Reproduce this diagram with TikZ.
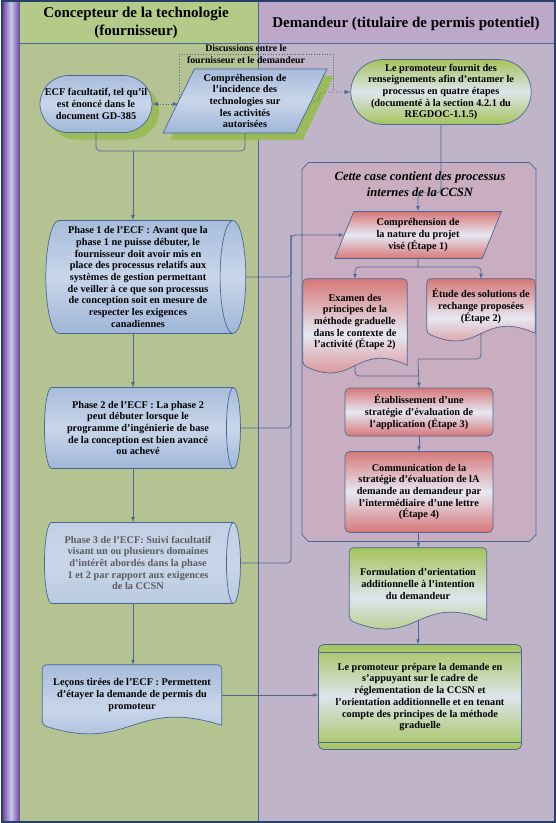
\documentclass[tikz,border=0pt]{standalone}
\usepackage{fontspec}
\setmainfont{Liberation Serif}
\usetikzlibrary{shapes.geometric,shapes.misc,shadows,calc}
\definecolor{laneA}{HTML}{B5C393}
\definecolor{laneB}{HTML}{C0B4C8}
\definecolor{headA}{HTML}{B3CA88}
\definecolor{headB}{HTML}{BDA8CA}
\definecolor{barpurple}{HTML}{7A4AA6}
\definecolor{barlight}{HTML}{C8C8EE}
\definecolor{frameblue}{HTML}{27406A}
\definecolor{edgeblue}{HTML}{4A6894}
\definecolor{bluetop}{HTML}{A7BCDB}
\definecolor{bluemid}{HTML}{C9D6EA}
\definecolor{bluebot}{HTML}{9FB6D8}
\definecolor{palebluetop}{HTML}{C3D0E4}
\definecolor{palebluebot}{HTML}{BACADF}
\definecolor{redtop}{HTML}{D67878}
\definecolor{redmid}{HTML}{E6E8F3}
\definecolor{greentop}{HTML}{A5C35C}
\definecolor{greenmid}{HTML}{DDE5EC}
\definecolor{shadowgreen}{HTML}{9BBB59}
\definecolor{ccsnfill}{HTML}{C8AEC0}
\definecolor{greytext}{HTML}{5C5C5C}
\pgfdeclarelayer{lanes}
\pgfdeclarelayer{shapes}
\pgfsetlayers{lanes,shapes,main}
\tikzset{
  txt/.style={font=\fontsize{10.3}{11.7}\selectfont\bfseries, align=center, inner sep=1pt},
  hdtxt/.style={font=\fontsize{15}{18}\selectfont\bfseries, align=center, inner sep=1pt},
  edge/.style={draw=edgeblue, line width=0.7pt},
  conn/.style={edge, rounded corners=4pt},
  bluefill/.style={edge, top color=bluetop, bottom color=bluebot, middle color=bluemid},
  palefill/.style={edge, top color=palebluetop, bottom color=palebluebot, middle color=bluemid},
  redfill/.style={edge, top color=redtop, bottom color=redtop, middle color=redmid},
  greenfill/.style={edge, top color=greentop, bottom color=greentop, middle color=greenmid},
  greenshadow/.style={drop shadow={shadow xshift=7pt, shadow yshift=-7pt, fill=shadowgreen, opacity=1}},
  term/.style={txt, rounded rectangle},
  para/.style={txt, trapezium, trapezium stretches=true},
  cyl/.style={txt, cylinder, aspect=0.25},
  doctext/.style={txt},
  boxnode/.style={txt, rectangle, rounded corners=5pt},
  ccsnbox/.style={chamfered rectangle, chamfered rectangle xsep=8pt, chamfered rectangle ysep=8pt, draw=edgeblue, line width=0.7pt, fill=ccsnfill}
}
% document shape with a wavy lower edge, drawn behind its text node
\newcommand\docshape[3][]{%
  \path[#1] (#2.south east) [rounded corners=4pt] -- (#2.north east) -- (#2.north west) -- (#2.south west) [sharp corners]
    .. controls ($(#2.south east)!0.5!(#2.south west)+(0,#3)$) and ($(#2.south east)!0.5!(#2.south west)+(0,-#3)$) .. (#2.south east) -- cycle;}
\begin{document}
\begin{tikzpicture}[x=1pt,y=-1pt,>=latex]
\useasboundingbox (0,0) rectangle (556,823);
\begin{pgfonlayer}{lanes}
  \fill[laneA] (19,1) rectangle (258,822);
  \fill[laneB] (258,1) rectangle (555,822);
  \fill[headA] (19,1) rectangle (258,43);
  \fill[headB] (258,1) rectangle (555,43);
  \shade[left color=barpurple, right color=barpurple, middle color=barlight] (3,1) rectangle (19,822);
  \draw[edge] (19,43) -- (555,43) (258,1) -- (258,822) (19,1) -- (19,822);
  \draw[frameblue, line width=1.4pt] (2,1) rectangle (555,822);
  \node[ccsnbox, minimum width=234, minimum height=379] (ccsn) at (419,352) {};
\end{pgfonlayer}

\node[hdtxt] (hdA) at (136,23) {Concepteur de la technologie\\(fournisseur)};
\node[hdtxt] (hdB) at (406,24) {Demandeur (titulaire de permis potentiel)};

\node[term, bluefill, greenshadow, minimum width=114, minimum height=57] (ecf) at (96,104) {ECF facultatif, tel qu'il\\est énoncé dans le\\document GD-385};
\node[para, bluefill, greenshadow, trapezium left angle=65, trapezium right angle=115, minimum width=164, minimum height=64] (comp) at (245,101) {Compréhension de\\l'incidence des\\technologies sur\\les activités\\autorisées};
\node[txt, font=\fontsize{9.8}{12}\selectfont\bfseries] (disc) at (246,54) {Discussions entre le\\fournisseur et le demandeur};
\node[term, greenfill, minimum width=172, minimum height=65] (prom) at (441,92) {Le promoteur fournit des\\renseignements afin d'entamer le\\processus en quatre étapes\\(documenté à la section 4.2.1 du\\REGDOC-1.1.5)};

\node[cyl, bluefill, minimum height=200, minimum width=113] (phaseA) at (138,277) {Phase 1 de l'ECF : Avant que la\\phase 1 ne puisse débuter, le\\fournisseur doit avoir mis en\\place des processus relatifs aux\\systèmes de gestion permettant\\de veiller à ce que son processus\\de conception soit en mesure de\\respecter les exigences\\canadiennes};
\node[cyl, bluefill, minimum height=196, minimum width=81] (phaseB) at (138,428) {Phase 2 de l'ECF : La phase 2\\peut débuter lorsque le\\programme d'ingénierie de base\\de la conception est bien avancé\\ou achevé};
\node[cyl, palefill, text=greytext, minimum height=196, minimum width=81] (phaseC) at (138,563) {Phase 3 de l'ECF: Suivi facultatif\\visant un ou plusieurs domaines\\d'intérêt abordés dans la phase\\1 et 2 par rapport aux exigences\\de la CCSN};
\node[doctext, minimum width=179, minimum height=60] (lecons) at (132,695) {Leçons tirées de l'ECF : Permettent\\d'étayer la demande de permis du\\promoteur};

\node[txt, font=\fontsize{12.6}{16}\selectfont\bfseries\itshape] (ccsntitle) at (420,184) {Cette case contient des processus\\internes de la CCSN};
\node[para, redfill, trapezium left angle=70, trapezium right angle=110, minimum width=167, minimum height=47] (nature) at (418,235) {Compréhension de\\la nature du projet\\visé (Étape 1)};
\node[doctext, minimum width=104, minimum height=86] (examen) at (355,322) {Examen des\\principes de la\\méthode graduelle\\dans le contexte de\\l'activité (Étape 2)};
\node[doctext, minimum width=108, minimum height=54] (etude) at (481,306) {Étude des solutions de\\rechange proposées\\(Étape 2)};
\node[boxnode, redfill, minimum width=148, minimum height=48] (etab) at (419,412) {Établissement d'une\\stratégie d'évaluation de\\l'application (Étape 3)};
\node[boxnode, redfill, minimum width=148, minimum height=81] (comm) at (419,492) {Communication de la\\stratégie d'évaluation de lA\\demande au demandeur par\\l'intermédiaire d'une lettre\\(Étape 4)};
\node[doctext, minimum width=137, minimum height=72] (form) at (418,584) {Formulation d'orientation\\additionnelle à l'intention\\du demandeur};
\node[boxnode, greenfill, minimum width=203, minimum height=105] (final) at (420,697) {Le promoteur prépare la demande en\\s'appuyant sur le cadre de\\réglementation de la CCSN et\\l'orientation additionnelle et en tenant\\compte des principes de la méthode\\graduelle};
\draw[edge] ([yshift=-8pt]final.north west) -- ([yshift=-8pt]final.north east);
\draw[edge] ([yshift=8pt]final.south west) -- ([yshift=8pt]final.south east);

\begin{pgfonlayer}{shapes}
  \draw[edge, dotted, line width=1pt] (179,100) -- (179,54) -- (333,54) -- (333,91);
  \docshape[bluefill]{lecons}{28}
  \docshape[redfill]{examen}{24}
  \docshape[redfill]{etude}{24}
  \docshape[greenfill]{form}{28}
\end{pgfonlayer}

\coordinate (jn) at (133,151);
\coordinate (bus) at (291,235);
\coordinate (split) at (418,267);
\coordinate (mergeA) at (418,376);
\coordinate (mergeB) at (418,359);
\draw[conn, dotted, line width=1pt, <->] (ecf.east) -- (ecf.east -| comp.west);
\draw[conn, dotted, line width=1pt, ->] (comp.east) -- ++(8,0) |- (prom.west);
\draw[conn] (ecf.south) |- (jn);
\draw[conn] (comp.south) |- (jn);
\draw[conn, ->] (jn) -- (jn |- phaseA.north);
\draw[conn, ->] (phaseA.south -| jn) -- (jn |- phaseB.north);
\draw[conn, ->] (phaseB.south -| jn) -- (jn |- phaseC.north);
\draw[conn, ->] (phaseC.south -| jn) -- (jn |- lecons.north);
\draw[conn, ->] (phaseA.east) -| (bus) -- (nature.west);
\draw[conn] (phaseB.east) -| (bus);
\draw[conn] (phaseC.east) -| (bus);
\draw[conn, ->] (lecons.east) -- (lecons.east -| final.west);
\draw[conn, ->] (prom.south) -- ++(0,68) -| (nature.north);
\draw[conn] (nature.south) -- (split);
\draw[conn, ->] (split) -| (examen.north);
\draw[conn, ->] (split) -| (etude.north);
\draw[conn] (examen.south) |- (mergeA);
\draw[conn] (etude.south) |- (mergeB);
\draw[conn, ->] (mergeB) -- (etab.north);
\draw[conn, ->] (etab) -- (comm);
\draw[conn, ->] (comm) -- (form);
\draw[conn, ->] (form.south) -- (form.south |- final.north);
\end{tikzpicture}
\end{document}
